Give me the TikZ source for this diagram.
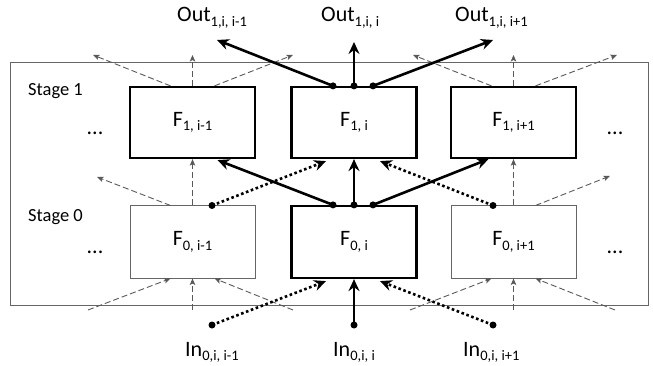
\documentclass[tikz,border=0pt]{standalone}
\usepackage{fontspec}
\setmainfont{Carlito}
\usetikzlibrary{arrows.meta}
\newcommand{\sbs}[1]{\raisebox{-4.5pt}{\fontsize{14.5}{15}\selectfont #1}}
\tikzset{
  bigfont/.style={font=\fontsize{22}{22}\selectfont},
  stagefont/.style={font=\fontsize{18.5}{19}\selectfont},
  fbox/.style={draw, line width=2.2pt, minimum width=125pt, minimum height=71pt, inner sep=0pt, bigfont},
  gbox/.style={draw=black!60, line width=1pt, minimum width=125pt, minimum height=72pt, inner sep=0pt, bigfont},
  thickarr/.style={line width=2.6pt, -{Stealth[length=12pt,width=11pt,inset=4pt]}},
  dotarr/.style={line width=2.6pt, dash pattern=on 2.6pt off 2.6pt, -{Stealth[length=12pt,width=11pt,inset=4pt]}},
  dasharr/.style={draw=black!65, line width=0.9pt, dash pattern=on 6pt off 3pt, -{Stealth[length=6.5pt,width=5.5pt,inset=1.5pt]}},
  dotstart/.style={fill=black, circle, inner sep=0pt, minimum size=7pt},
  lbl/.style={bigfont, anchor=base west, inner sep=0pt},
  dots/.style={bigfont, inner sep=0pt},
}
\begin{document}
\begin{tikzpicture}[x=1pt,y=-1pt]
\useasboundingbox (0,0) rectangle (653,366);
% frame
\node[draw=black!60, line width=1pt, minimum width=638pt, minimum height=242pt, inner sep=0pt] (frame) at (329,184) {};
% boxes
\node[fbox] (F1a) at (192.5,122.5) {F\sbs{1, i-1}};
\node[fbox] (F1b) at (354,122.5) {F\sbs{1, i}};
\node[fbox] (F1c) at (513.5,122.5) {F\sbs{1, i+1}};
\node[gbox] (F0a) at (192.5,242) {F\sbs{0, i-1}};
\node[fbox, minimum height=72pt] (F0b) at (354,242) {F\sbs{0, i}};
\node[gbox] (F0c) at (513.5,242) {F\sbs{0, i+1}};
% stage labels and dots
\node[stagefont, anchor=base west, inner sep=0pt] (s1) at (28,96) {Stage 1};
\node[stagefont, anchor=base west, inner sep=0pt] (s0) at (28,222) {Stage 0};
\node[dots] (d1l) at (95,133) {...};
\node[dots] (d1r) at (615,133) {...};
\node[dots] (d0l) at (95,252) {...};
\node[dots] (d0r) at (615,252) {...};
% out labels
\node[lbl] (o1) at (177,22) {Out\sbs{1,i, i-1}};
\node[lbl] (o2) at (321,22) {Out\sbs{1,i, i}};
\node[lbl] (o3) at (455,22) {Out\sbs{1,i, i+1}};
% in labels
\node[lbl] (i1) at (185,356) {In\sbs{0,i, i-1}};
\node[lbl] (i2) at (333,356) {In\sbs{0,i, i}};
\node[lbl] (i3) at (463,356) {In\sbs{0,i, i+1}};
% free ends
\coordinate (eo1) at (217,40);
\coordinate (eo2) at (354,42);
\coordinate (eo3) at (493,40);
\node[dotstart] (pi1) at (212,325) {};
\node[dotstart] (pi2) at (354,325) {};
\node[dotstart] (pi3) at (493,325) {};
% dashed arrows stage 1 top
\coordinate (a1) at (93,55); \coordinate (a2) at (192.5,55); \coordinate (a3) at (293,55);
\coordinate (a4) at (413,55); \coordinate (a5) at (513.5,55); \coordinate (a6) at (617,55);
\draw[dasharr] ([xshift=-22pt]F1a.north) -- (a1);
\draw[dasharr] (F1a.north) -- (a2);
\draw[dasharr] ([xshift=22pt]F1a.north) -- (a3);
\draw[dasharr] ([xshift=-22pt]F1c.north) -- (a4);
\draw[dasharr] (F1c.north) -- (a5);
\draw[dasharr] ([xshift=22pt]F1c.north) -- (a6);
% dashed between stages
\coordinate (b1) at (97,177); \coordinate (b2) at (610,176);
\draw[dasharr] ([xshift=-22pt]F0a.north) -- (b1);
\draw[dasharr] (F0a.north) -- (F1a.south);
\draw[dasharr] ([xshift=22pt]F0c.north) -- (b2);
\draw[dasharr] (F0c.north) -- (F1c.south);
% dashed bottom
\coordinate (c1) at (88,310); \coordinate (c2) at (192.5,310); \coordinate (c3) at (293,310);
\coordinate (c4) at (410,310); \coordinate (c5) at (513.5,310); \coordinate (c6) at (615,310);
\draw[dasharr] (c1) -- ([xshift=-22pt]F0a.south);
\draw[dasharr] (c2) -- (F0a.south);
\draw[dasharr] (c3) -- ([xshift=22pt]F0a.south);
\draw[dasharr] (c4) -- ([xshift=-22pt]F0c.south);
\draw[dasharr] (c5) -- (F0c.south);
\draw[dasharr] (c6) -- ([xshift=22pt]F0c.south);
% dotted between stages
\node[dotstart] (pd1) at ([xshift=19.5pt]F0a.north) {};
\node[dotstart] (pd2) at ([xshift=-20.5pt]F0c.north) {};
\draw[dotarr] (pd1.center) -- ([xshift=-28pt,yshift=-2pt]F1b.south);
\draw[dotarr] (pd2.center) -- ([xshift=26pt,yshift=-2pt]F1b.south);
% thick between stages
\node[dotstart] (pb1) at ([xshift=-21pt]F0b.north) {};
\node[dotstart] (pb2) at (F0b.north) {};
\node[dotstart] (pb3) at ([xshift=19pt]F0b.north) {};
\draw[thickarr] (pb1.center) -- ([xshift=25pt,yshift=-1pt]F1a.south);
\draw[thickarr] (pb2.center) -- (F1b.south);
\draw[thickarr] (pb3.center) -- ([xshift=-25pt]F1c.south);
% thick top
\node[dotstart] (pt1) at ([xshift=-21pt]F1b.north) {};
\node[dotstart] (pt2) at (F1b.north) {};
\node[dotstart] (pt3) at ([xshift=19pt]F1b.north) {};
\draw[thickarr] (pt1.center) -- (eo1);
\draw[thickarr] (pt2.center) -- (eo2);
\draw[thickarr] (pt3.center) -- (eo3);
% inputs
\draw[dotarr] (pi1.center) -- ([xshift=-28pt,yshift=-2pt]F0b.south);
\draw[thickarr] (pi2.center) -- (F0b.south);
\draw[dotarr] (pi3.center) -- ([xshift=26pt,yshift=-2pt]F0b.south);
\end{tikzpicture}
\end{document}
